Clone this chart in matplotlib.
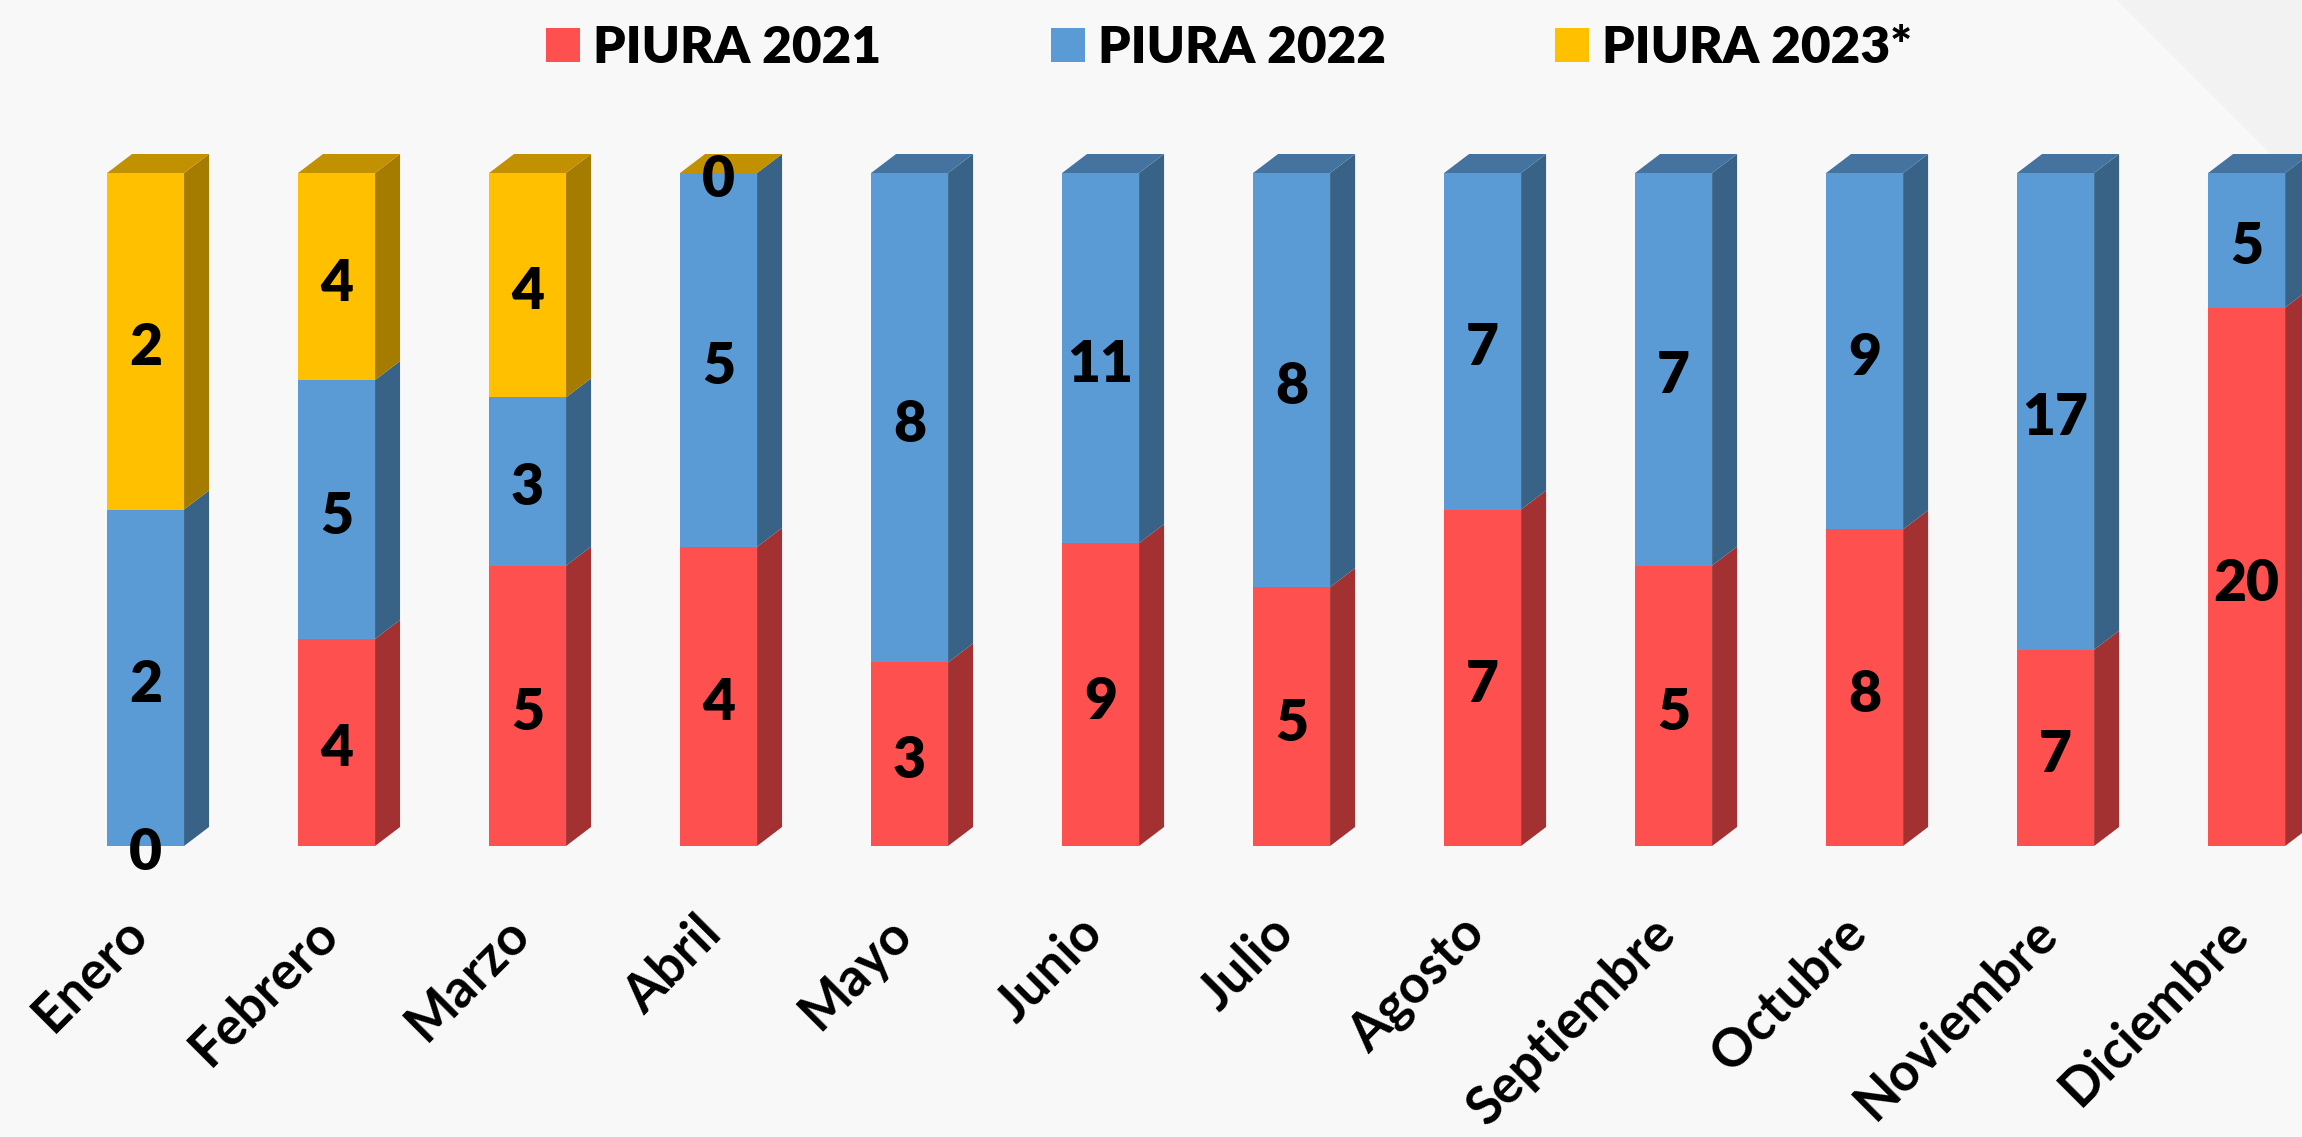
import matplotlib
matplotlib.use("Agg")
import matplotlib.pyplot as plt
from matplotlib.patches import Polygon, Rectangle, Patch
import matplotlib.transforms as mtrans
import numpy as np

plt.rcParams['font.family'] = ['Lato', 'DejaVu Sans']

months = ["Enero", "Febrero", "Marzo", "Abril", "Mayo", "Junio", "Julio",
          "Agosto", "Septiembre", "Octubre", "Noviembre", "Diciembre"]
piura_2021 = [0, 4, 5, 4, 3, 9, 5, 7, 5, 8, 7, 20]
piura_2022 = [2, 5, 3, 5, 8, 11, 8, 7, 7, 9, 17, 5]
piura_2023 = [2, 4, 4, 0, None, None, None, None, None, None, None, None]
series_names = ["PIURA 2021", "PIURA 2022", "PIURA 2023*"]

front_cols = ["#FF5050", "#5B9BD5", "#FFC000"]
side_cols = ["#A33131", "#386386", "#A67C00"]
top_cols = ["#C43E3E", "#4473A0", "#C29100"]

W, H = 2302, 1137
fig = plt.figure(figsize=(W / 100, H / 100), dpi=100)
fig.patch.set_facecolor("#F8F8F8")

# subtle diagonal shape top-right
bg = fig.add_axes([0, 0, 1, 1])
bg.set_xlim(0, W); bg.set_ylim(H, 0); bg.axis("off")
bg.add_patch(Polygon([(2117, 0), (W, 0), (W, 185)], closed=True,
                     facecolor="#F2F2F2", edgecolor="none"))

bottom_px = 846.0
top_px = 173.0
ax = fig.add_axes([0, (H - bottom_px) / H, 1, bottom_px / H])
ax.set_facecolor("none")
xmin, xmax = -0.762, 11.29
ymax = bottom_px / (bottom_px - top_px)
ax.set_xlim(xmin, xmax)
ax.set_ylim(0, ymax)
for s in ax.spines.values():
    s.set_visible(False)
ax.set_yticks([])

px_x = W / (xmax - xmin)
px_y = bottom_px / ymax
dx = 25 / px_x
dy = 19 / px_y
bw = 77 / px_x

label_offset = mtrans.offset_copy(ax.transData, fig=fig, x=0, y=-7 * 0.72, units="points")

for i in range(len(months)):
    vals = [piura_2021[i], piura_2022[i], piura_2023[i]]
    present = [v is not None for v in vals]
    total = sum(v for v in vals if v is not None)
    x0, x1 = i - bw / 2, i + bw / 2
    base = 0.0
    last_k = max(k for k in range(3) if present[k])
    for k, v in enumerate(vals):
        if v is None:
            continue
        h = v / total
        y0, y1 = base, base + h
        if h > 0:
            ax.add_patch(Rectangle((x0, y0), bw, h, facecolor=front_cols[k],
                                   edgecolor="none", zorder=2))
            ax.add_patch(Polygon([(x1, y0), (x1 + dx, y0 + dy), (x1 + dx, y1 + dy), (x1, y1)],
                                 closed=True, facecolor=side_cols[k], edgecolor="none", zorder=2,
                                 clip_on=False))
        base = y1
    # top face
    ax.add_patch(Polygon([(x0, base), (x0 + dx, base + dy), (x1 + dx, base + dy), (x1, base)],
                         closed=True, facecolor=top_cols[last_k], edgecolor="none", zorder=2))
    # labels
    base = 0.0
    for k, v in enumerate(vals):
        if v is None:
            continue
        h = v / total
        ax.text(i, base + h / 2, str(v), transform=label_offset, ha="center", va="center",
                fontsize=41, fontweight="heavy", color="black", zorder=5, clip_on=False)
        base += h

ax.set_xticks(range(len(months)))
ax.set_xticklabels(months, rotation=45, ha="right", va="center", rotation_mode="anchor",
                   fontsize=38, fontweight="bold")
ax.tick_params(axis="x", length=0, pad=57)
shift = mtrans.ScaledTranslation(-6 / 100, 0, fig.dpi_scale_trans)
for lab in ax.get_xticklabels():
    lab.set_transform(lab.get_transform() + shift)

handles = [Patch(facecolor=c, edgecolor="none") for c in front_cols]
fig.legend(handles, series_names, loc="center", bbox_to_anchor=(0.534, 1 - 48 / H), ncol=3,
           frameon=False, prop={"size": 37, "weight": "heavy"}, handlelength=0.66,
           handleheight=0.66, handletextpad=0.25, columnspacing=3.3)

fig.savefig("out.png", dpi=100, facecolor=fig.get_facecolor())
